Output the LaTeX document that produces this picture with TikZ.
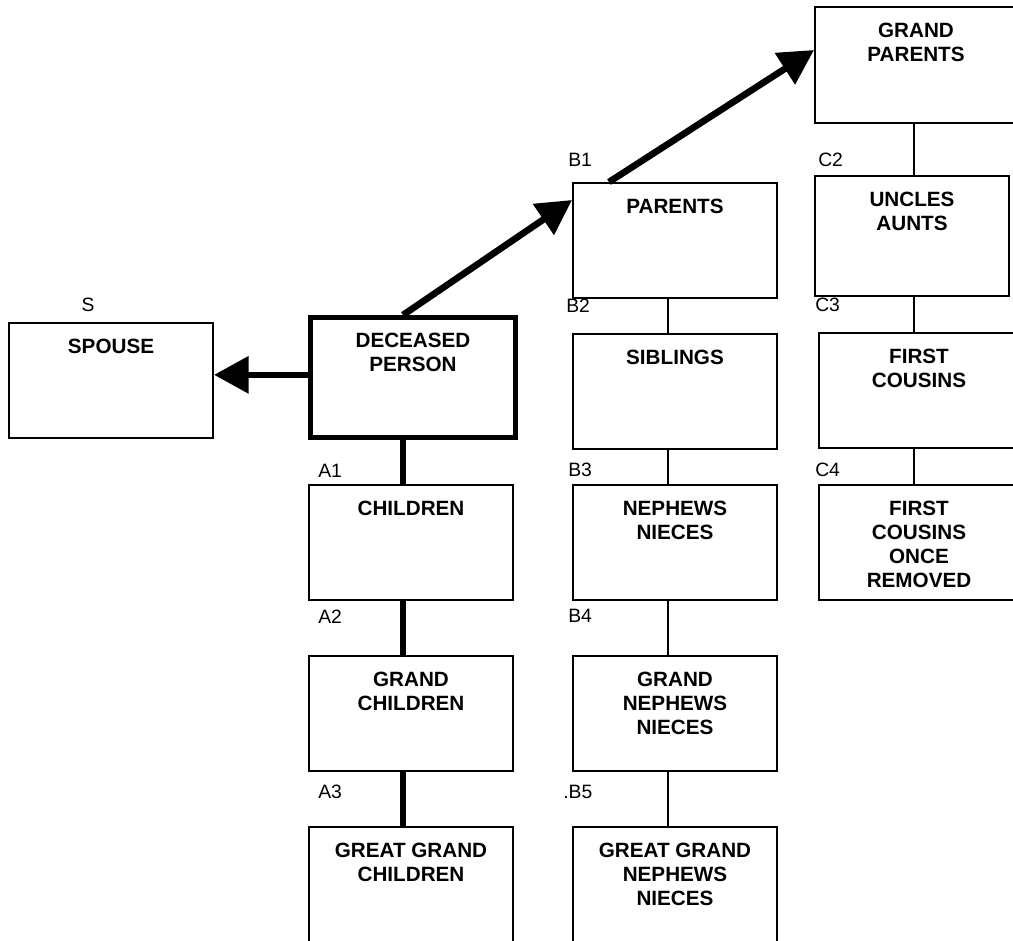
\documentclass[tikz,border=0pt]{standalone}
\usepackage{fontspec}
\setmainfont{Liberation Sans}
\usetikzlibrary{arrows.meta}
% text sits at the top of every box
\newcommand{\famtext}[3]{\parbox[t][#2][t]{#1}{\centering\vspace*{9.9pt}\strut#3}}
\begin{document}
\begin{tikzpicture}[x=0.75pt,y=-0.75pt,
    fambox/.style={draw,line width=1.5pt,inner sep=0pt,anchor=north west,
      font=\fontsize{15.5}{18}\selectfont\bfseries},
    tag/.style={inner sep=0pt,anchor=west,font=\fontsize{14.5}{16}\selectfont},
    link/.style={line width=1.5pt},
    heavy/.style={line width=5pt},
    bigarrow/.style={line width=5pt,-{Triangle[length=26pt,width=27pt]}}]
    \useasboundingbox[fill=white] (0,0) rectangle (1013,940);
    % boxes
    \node[fambox] (sp) at (8,322) {\famtext{153pt}{86.25pt}{SPOUSE}};
    \node[fambox,line width=3.75pt] (dec) at (308,315) {\famtext{153.75pt}{90pt}{DECEASED\\PERSON}};
    \node[fambox] (chi) at (308,484) {\famtext{153pt}{86.25pt}{CHILDREN}};
    \node[fambox] (gch) at (308,655) {\famtext{153pt}{86.25pt}{GRAND\\CHILDREN}};
    \node[fambox] (ggc) at (308,826) {\famtext{153pt}{90pt}{GREAT GRAND\\CHILDREN}};
    \node[fambox] (par) at (572,182) {\famtext{153pt}{86.25pt}{PARENTS}};
    \node[fambox] (sib) at (572,333) {\famtext{153pt}{86.25pt}{SIBLINGS}};
    \node[fambox] (nep) at (572,484) {\famtext{153pt}{86.25pt}{NEPHEWS\\NIECES}};
    \node[fambox] (gnp) at (572,655) {\famtext{153pt}{86.25pt}{GRAND\\NEPHEWS\\NIECES}};
    \node[fambox] (ggn) at (572,826) {\famtext{153pt}{90pt}{GREAT GRAND\\NEPHEWS\\NIECES}};
    \node[fambox] (gpa) at (814,6) {\famtext{151.5pt}{87pt}{GRAND\\PARENTS}};
    \node[fambox] (unc) at (814,175) {\famtext{145.5pt}{90pt}{UNCLES\\AUNTS}};
    \node[fambox] (fc1) at (818,332) {\famtext{150pt}{86.25pt}{FIRST\\COUSINS}};
    \node[fambox] (fc2) at (818,484) {\famtext{150pt}{86.25pt}{FIRST\\COUSINS\\ONCE\\REMOVED}};
    % small labels
    \node[tag,anchor=center] (tS) at (88,305) {S};
    \node[tag] (tA1) at (318,471) {A1};
    \node[tag] (tA2) at (318,617) {A2};
    \node[tag] (tA3) at (318,792) {A3};
    \node[tag] (tB1) at (568,160) {B1};
    \node[tag] (tB2) at (566,306) {B2};
    \node[tag] (tB3) at (568,470) {B3};
    \node[tag] (tB4) at (568,616) {B4};
    \node[tag] (tB5) at (563,792) {.B5};
    \node[tag] (tC2) at (818,160) {C2};
    \node[tag] (tC3) at (815,305) {C3};
    \node[tag] (tC4) at (815,470) {C4};
    % arrows
    \draw[bigarrow] ([yshift=2pt]dec.west) -- ([yshift=2pt]dec.west -| sp.east);
    \draw[bigarrow] ([xshift=-7.5pt]dec.north) -- ([yshift=-13.5pt]par.north west);
    \draw[bigarrow] ([xshift=27.75pt]par.north west) -- ([yshift=-33pt]gpa.north west);
    % descendants
    \draw[heavy] ([xshift=-6pt]chi.north |- dec.south) -- ([xshift=-6pt]chi.north);
    \draw[heavy] ([xshift=-6pt]chi.south) -- ([xshift=-6pt]gch.north);
    \draw[heavy] ([xshift=-6pt]gch.south) -- ([xshift=-6pt]ggc.north);
    % parents line
    \draw[link] ([xshift=-5.25pt]par.south) -- ([xshift=-5.25pt]sib.north);
    \draw[link] ([xshift=-5.25pt]sib.south) -- ([xshift=-5.25pt]nep.north);
    \draw[link] ([xshift=-5.25pt]nep.south) -- ([xshift=-5.25pt]gnp.north);
    \draw[link] ([xshift=-5.25pt]gnp.south) -- ([xshift=-5.25pt]ggn.north);
    % grand parents line
    \draw[link] ([xshift=-3.75pt]fc1.north |- gpa.south) -- ([xshift=-3.75pt]fc1.north |- unc.north);
    \draw[link] ([xshift=-3.75pt]fc1.north |- unc.south) -- ([xshift=-3.75pt]fc1.north);
    \draw[link] ([xshift=-3.75pt]fc1.south) -- ([xshift=-3.75pt]fc2.north);
\end{tikzpicture}
\end{document}
